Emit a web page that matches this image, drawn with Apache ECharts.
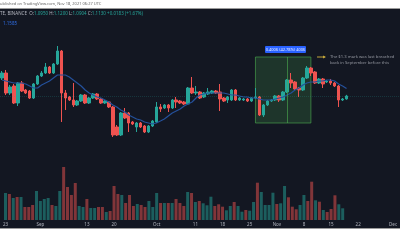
<!DOCTYPE html>
<html><head><meta charset="utf-8">
<script src="https://cdn.jsdelivr.net/npm/echarts@6/dist/echarts.min.js"></script>
<style>html,body{margin:0;padding:0;background:#fff}#c{width:400px;height:240px}</style>
</head><body><div id="c"></div>
<script>
// ---- data (daily candles from 2021-08-23) ----
const firstDay = '2021-08-23';
const dayCount = 101; // axis runs to 2021-12-01
const opens  = [1.2239,1.2547,1.1315,1.1746,1.0699,1.1931,1.1500,1.1438,1.1007,1.1870,1.2362,1.2547,1.2917,1.2547,1.3102,1.3902,1.1315,1.1069,1.0884,1.0576,1.0822,1.1192,1.0699,1.1007,1.1254,1.0946,1.0699,1.0761,1.0453,0.9221,0.8728,1.0083,1.0083,0.9529,0.9221,0.9467,0.9282,0.8913,0.9282,0.9529,1.0453,1.0391,1.0576,1.0391,1.0884,1.0822,1.0761,1.0638,1.1623,1.1315,1.1377,1.1069,1.1254,1.1315,1.1438,1.1377,1.1007,1.0884,1.0884,1.1500,1.0884,1.0884,1.0946,1.0822,1.1007,1.1069,0.9960,1.0576,1.0822,1.0884,1.1130,1.0884,1.1377,1.2116,1.1993,1.1623,1.1500,1.2239,1.2855,1.2609,1.1931,1.2178,1.1993,1.2054,1.1931,1.1746,1.0884,1.0950];
const closes = [1.2547,1.1315,1.1685,1.0699,1.1931,1.1438,1.1315,1.1007,1.1870,1.2362,1.2547,1.2917,1.2547,1.3102,1.3902,1.1315,1.1007,1.0884,1.0576,1.0822,1.1192,1.0699,1.1007,1.1254,1.0946,1.0699,1.0822,1.0453,0.8728,0.8728,1.0083,0.9775,0.9467,0.9406,0.9467,0.9221,0.8913,0.9282,0.9590,1.0453,1.0330,1.0576,1.0391,1.0884,1.0761,1.0699,1.0638,1.1623,1.1315,1.1377,1.1007,1.1315,1.1377,1.1438,1.1315,1.0946,1.0822,1.1069,1.1500,1.0884,1.1007,1.0946,1.0822,1.1007,1.1069,0.9960,1.0576,1.0822,1.0884,1.1130,1.0884,1.1377,1.2116,1.1931,1.1562,1.1500,1.2239,1.2855,1.2547,1.1931,1.2178,1.1870,1.2054,1.1931,1.1746,1.0884,1.0946,1.1130];
const lows   = [1.2116,1.1192,1.1192,1.0638,1.0514,1.1377,1.1254,1.0946,1.0946,1.1808,1.2301,1.2486,1.2486,1.2486,1.3040,0.9529,1.0268,1.0822,1.0453,1.0514,1.0761,1.0638,1.0638,1.0946,1.0884,1.0638,1.0638,1.0391,0.8605,0.8666,0.8666,0.9714,0.8913,0.9344,0.8913,0.9159,0.8851,0.8851,0.9221,0.9467,1.0145,1.0330,1.0145,1.0330,1.0391,1.0638,1.0576,1.0576,1.1254,1.1192,1.0946,1.1007,1.1192,1.1254,1.1254,1.0206,1.0761,1.0699,1.0822,1.0822,1.0822,1.0822,1.0761,1.0761,1.0946,0.9898,0.9837,1.0514,1.0761,1.0822,1.0761,1.0822,1.1315,1.1623,1.1500,1.1069,1.1438,1.2178,1.2362,1.1870,1.1870,1.1623,1.1931,1.1808,1.1685,1.0453,1.0822,1.0904];
const highs  = [1.2670,1.2732,1.1808,1.1870,1.1993,1.2054,1.1562,1.1500,1.1931,1.2424,1.2670,1.3163,1.2978,1.3163,1.4210,1.3964,1.1500,1.1130,1.1931,1.0884,1.1254,1.1254,1.1069,1.1315,1.1315,1.1007,1.0884,1.0822,1.0514,0.9344,1.0145,1.0391,1.0145,0.9590,0.9529,0.9529,0.9344,0.9344,0.9652,1.0761,1.0638,1.0638,1.0638,1.0946,1.1069,1.0884,1.0822,1.1685,1.2301,1.1746,1.1438,1.1377,1.1623,1.1500,1.1500,1.1870,1.1069,1.1130,1.1562,1.1562,1.1069,1.1007,1.1007,1.1069,1.1623,1.1130,1.0638,1.0884,1.0946,1.1192,1.1192,1.1438,1.2178,1.2547,1.2054,1.1685,1.2301,1.2978,1.2917,1.2670,1.2239,1.2239,1.2116,1.2178,1.1993,1.1808,1.1007,1.1200];
const volumes = [27,26,22,23,23,13,13,15,29,19,21,22,15,14,29,53,33,25,37,14,13,21,12,12,13,13,8,9,34,26,25,17,25,14,16,15,13,19,13,27,17,17,17,17,21,17,14,28,27,18,19,16.7,14.7,23.3,14,15.7,13.3,9.7,14,18,14,8.3,10,9.3,18,37.3,28,15,15,27.3,16,16.7,34,22.7,13.3,10.7,15,25,19,38.3,19.7,18.3,10,8,11,24.7,15.7,11.7];
const maValues = [1.2116,1.2054,1.1993,1.1931,1.1931,1.1931,1.1870,1.1746,1.1623,1.1623,1.1808,1.1931,1.2054,1.2239,1.2424,1.2424,1.2424,1.2301,1.2116,1.1931,1.1746,1.1500,1.1315,1.1192,1.1069,1.1007,1.0884,1.0761,1.0576,1.0453,1.0268,1.0145,0.9960,0.9837,0.9714,0.9652,0.9529,0.9467,0.9406,0.9467,0.9590,0.9714,0.9898,1.0083,1.0206,1.0330,1.0514,1.0638,1.0761,1.1007,1.1192,1.1254,1.1315,1.1315,1.1315,1.1315,1.1315,1.1254,1.1192,1.1192,1.1130,1.1069,1.1069,1.1007,1.1007,1.0946,1.0884,1.0884,1.0884,1.0946,1.1007,1.1069,1.1192,1.1315,1.1500,1.1623,1.1808,1.1931,1.1993,1.1993,1.2054,1.2054,1.2116,1.2116,1.2054,1.1870,1.1746,1.1585];
const tickDates = ['08-23','09-01','09-13','09-20','10-01','10-11','10-18','10-25','11-01','11-08','11-15','11-22','12-01'];
const tickTexts = ['23','Sep','13','20','Oct','11','18','25','Nov','8','15','22','Dec'];
const lastClose = 1.1130;
const rangeBox = {from:'10-26', to:'11-09', top:1.3533, bottom:0.9467, mid:'11-03'};

// ---- build ----
const categories = [];
const t0 = Date.parse(firstDay + 'T00:00:00Z');
for (let k = 0; k < dayCount; k++) {
  const d = new Date(t0 + k * 86400000);
  categories.push(String(d.getUTCMonth()+1).padStart(2,'0') + '-' + String(d.getUTCDate()).padStart(2,'0'));
}
const tickMap = {};
tickDates.forEach((d,i)=>{ tickMap[d] = tickTexts[i]; });
const UP = '#26a69a', DOWN = '#ef5350';
const candleData = categories.map((c,i)=> i < opens.length ? [opens[i], closes[i], lows[i], highs[i]] : '-');
const volData = categories.map((c,i)=> i < volumes.length ? {value: volumes[i], itemStyle:{color: closes[i] >= opens[i] ? 'rgba(38,166,154,0.5)' : 'rgba(239,83,80,0.5)'}} : '-');
const maData = categories.map((c,i)=> i < maValues.length ? maValues[i] : '-');

const FONT = 'Noto Sans';
const chart = echarts.init(document.getElementById('c'), null, {renderer:'canvas'});
chart.setOption({
  animation: false,
  backgroundColor: '#131722',
  grid: [
    {left: -2.5, width: 404, top: 8, height: 212},
    {left: -2.5, width: 404, top: 140, height: 80}
  ],
  xAxis: [
    {type:'category', gridIndex:0, data: categories, show:false, boundaryGap:true},
    {type:'category', gridIndex:1, data: categories, boundaryGap:true,
     axisLine:{show:false}, axisTick:{show:false}, splitLine:{show:false},
     axisLabel:{interval:(idx,val)=> tickMap[val] !== undefined, formatter: v => tickMap[v] || '',
       color:'#b2b5be', fontSize:4.5, fontFamily:FONT, margin:2, hideOverlap:false}}
  ],
  yAxis: [
    {type:'value', gridIndex:0, min:0.3492, max:1.6551, show:false, splitLine:{show:false}},
    {type:'value', gridIndex:1, min:0, max:80, show:false, splitLine:{show:false}}
  ],
  series: [
    {type:'bar', xAxisIndex:1, yAxisIndex:1, data: volData, barWidth:3, silent:true},
    {type:'candlestick', xAxisIndex:0, yAxisIndex:0, data: candleData, barWidth:3,
     itemStyle:{color:UP, color0:DOWN, borderColor:UP, borderColor0:DOWN, borderWidth:1},
     markLine:{silent:true, symbol:'none', label:{show:false},
       lineStyle:{color:'rgba(38,166,154,0.22)', type:'dotted', width:1},
       data:[{yAxis:lastClose}]},
     markArea:{silent:true,
       itemStyle:{color:'rgba(76,175,80,0.2)', borderColor:'rgba(76,175,80,0.6)', borderWidth:1},
       data:[[{coord:[rangeBox.from, rangeBox.top]},{coord:[rangeBox.to, rangeBox.bottom]}]]}
    },
    {type:'line', xAxisIndex:0, yAxisIndex:0, data: maData, showSymbol:false, silent:true,
     lineStyle:{color:'#24509a', width:1.2}, z:3,
     markLine:{silent:true, symbol:'none', label:{show:false},
       lineStyle:{color:'rgba(76,175,80,0.6)', type:'solid', width:1},
       data:[[{coord:[rangeBox.mid, rangeBox.top]},{coord:[rangeBox.mid, rangeBox.bottom]}]]}
    }
  ],
  graphic: [
    {type:'rect', shape:{x:0,y:0,width:400,height:8}, style:{fill:'#ffffff'}, z:100},
    {type:'rect', shape:{x:0,y:8,width:400,height:1}, style:{fill:'#9b9b9b'}, z:100},
    {type:'text', x:0, y:4, z:101, style:{text:'ublished on TradingView.com, Nov 18, 2021 06:27 UTC', fill:'#666', fontSize:4, fontFamily:FONT, verticalAlign:'middle'}},
    {type:'rect', shape:{x:0,y:228,width:400,height:1}, style:{fill:'#9b9b9b'}, z:100},
    {type:'rect', shape:{x:0,y:229,width:400,height:11}, style:{fill:'#ffffff'}, z:100},
    {type:'text', x:0, y:13.3, z:101, style:{
      text:'{g|TE, BINANCE  O:}{v|1.0950}{g| H:}{v|1.1200}{g| L:}{v|1.0904}{g| C:}{v|1.1130}{v| +0.0183 (+1.67%)}',
      verticalAlign:'middle', fontFamily:FONT, fontSize:4.5,
      rich:{g:{fill:'#b2b5be', fontSize:4.5, fontFamily:FONT}, v:{fill:'#26a69a', fontSize:4.5, fontFamily:FONT}}}},
    {type:'text', x:3, y:23.5, z:101, style:{text:'1.1585', fill:'#2f6fe8', fontSize:4.5, fontFamily:FONT, verticalAlign:'middle'}},
    {type:'rect', shape:{x:265,y:46,width:41,height:7,r:1}, style:{fill:'#2962ff'}, z:101},
    {type:'text', x:285.5, y:49.5, z:102, style:{text:'0.4006 (42.78%) 4006', fill:'#e8ecff', fontSize:4, fontFamily:FONT, align:'center', verticalAlign:'middle'}},
    {type:'line', shape:{x1:317,y1:57,x2:325,y2:57}, style:{stroke:'#c2a53a', lineWidth:1}, z:101},
    {type:'polygon', shape:{points:[[326,57],[323,55.5],[323,58.5]]}, style:{fill:'#c2a53a'}, z:101},
    {type:'text', x:330, y:57.3, z:101, style:{text:'The $1.3 mark was last breached', fill:'#9598a1', fontSize:4.2, fontFamily:FONT, verticalAlign:'middle'}},
    {type:'text', x:330, y:62.5, z:101, style:{text:'back in September before this', fill:'#9598a1', fontSize:4.2, fontFamily:FONT, verticalAlign:'middle'}}
  ]
});
</script></body></html>
